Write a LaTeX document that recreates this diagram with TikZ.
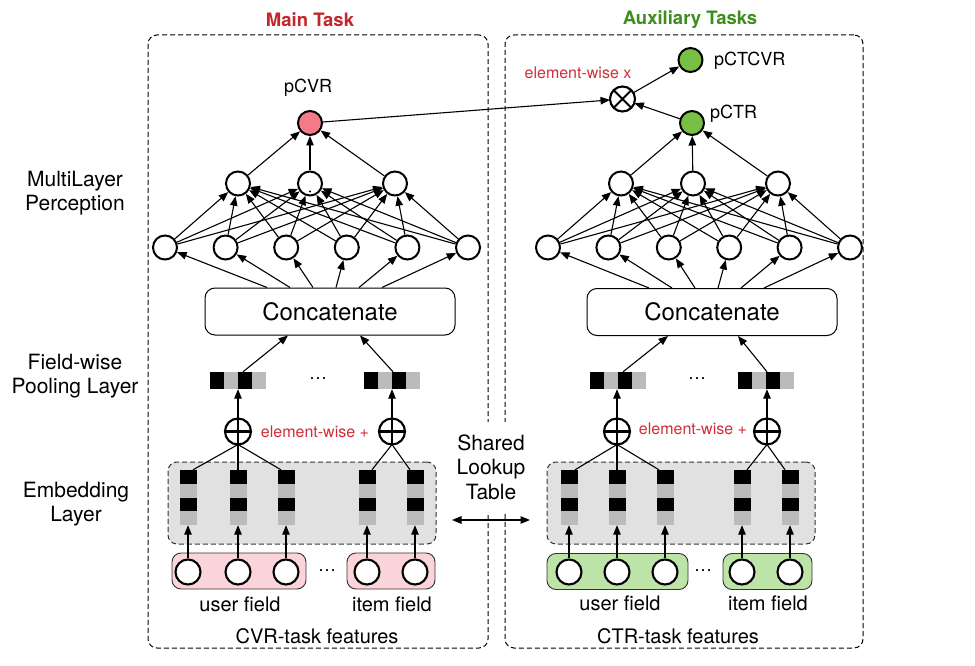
\documentclass[tikz,border=0pt]{standalone}
\usepackage{fontspec}
\setmainfont{TeX Gyre Heros}
\usetikzlibrary{arrows.meta}
\definecolor{mainred}{HTML}{C1272D}
\definecolor{auxgreen}{HTML}{3E8E1F}
\definecolor{opred}{HTML}{D12E3A}
\definecolor{outpink}{HTML}{F47A8A}
\definecolor{outgreen}{HTML}{77C043}
\definecolor{fieldpink}{HTML}{FAD4D8}
\definecolor{fieldgreen}{HTML}{BEE3A6}
\definecolor{embgray}{HTML}{E1E1E1}
\definecolor{cellgray}{HTML}{BBBBBB}
\begin{document}
\begin{tikzpicture}[x=1pt,y=-1pt,
  neuron/.style={circle,draw,line width=2pt,fill=white,minimum size=24pt,inner sep=0pt},
  fieldc/.style={circle,draw,line width=2.1pt,fill=white,minimum size=25pt,inner sep=0pt},
  opnode/.style={circle,draw,line width=2.1pt,fill=white,minimum size=26pt,inner sep=0pt,outer sep=0pt},
  oplines/.style={line width=2.1pt},
  arr/.style={-{Triangle[length=9.5pt,width=7.5pt]},line width=1.1pt},
  darr/.style={{Triangle[length=9.5pt,width=7.5pt]}-{Triangle[length=9.5pt,width=7.5pt]},line width=1.1pt},
  ln/.style={line width=1.1pt},
  taskbox/.style={draw,dash pattern=on 5pt off 3pt,rounded corners=9pt,line width=1pt,inner sep=0pt},
  embbox/.style={draw=black!80,fill=embgray,dash pattern=on 5pt off 3pt,rounded corners=9pt,line width=1pt,inner sep=0pt},
  fieldboxP/.style={draw=black!80,fill=fieldpink,rounded corners=9pt,line width=0.9pt,inner sep=0pt},
  fieldboxG/.style={draw=black!80,fill=fieldgreen,rounded corners=9pt,line width=0.9pt,inner sep=0pt},
  concat/.style={draw,rounded corners=10pt,line width=1pt,minimum width=250pt,minimum height=47pt,inner sep=0pt,font=\fontsize{24}{28}\selectfont},
  vecbox/.style={minimum width=56pt,minimum height=17pt,inner sep=0pt},
  colbox/.style={minimum width=17pt,minimum height=55pt,inner sep=0pt},
  lbl/.style={align=center,inner sep=1pt,font=\fontsize{21}{24}\selectfont},
  lblM/.style={inner sep=1pt,font=\fontsize{20}{24}\selectfont},
  lblS/.style={inner sep=1pt,font=\fontsize{18}{22}\selectfont},
  oplbl/.style={inner sep=1pt,text=opred,font=\fontsize{16}{19}\selectfont},
  title/.style={inner sep=1pt,font=\bfseries\fontsize{18.5}{22}\selectfont}
]
\useasboundingbox (0,0) rectangle (975,666);
\fill[white] (0,0) rectangle (975,666);

% task boxes
\node[taskbox,minimum width=340pt,minimum height=613pt] (mainbox) at (318,341.5) {};
\node[taskbox,minimum width=358pt,minimum height=613pt] (auxbox) at (684,341.5) {};
\node[title,text=mainred] (tmain) at (310,20) {Main Task};
\node[title,text=auxgreen] (taux) at (690,20) {Auxiliary Tasks};

% shared lookup
\node[lbl,fill=white,minimum height=90pt,minimum width=62pt,font=\fontsize{21}{24.5}\selectfont] (shared) at (491,467) {Shared\\Lookup\\Table};
\coordinate (sl) at (452,520);
\coordinate (sr) at (530,520);
\draw[darr] (sl) -- (sr);

% left labels
\node[lbl] (mlp) at (75,193) {MultiLayer\\Perception};
\node[lbl] (pool) at (75,376) {Field-wise\\Pooling Layer};
\node[lbl] (embl) at (76,504) {Embedding\\Layer};

% embedding regions
\node[embbox,minimum width=268pt,minimum height=82pt] (embL) at (302,503) {};
\node[embbox,minimum width=268pt,minimum height=82pt] (embR) at (681,503) {};

% embedding columns
\foreach \n/\cx in {eL1/188,eL2/238,eL3/286,eL4/367,eL5/415,eR1/569,eR2/617,eR3/665,eR4/742,eR5/790}{
  \node[colbox] (\n) at (\cx,497.5) {};
  \fill[black] ({\cx-8.5},470) rectangle ({\cx+8.5},483.75);
  \fill[cellgray] ({\cx-8.5},483.75) rectangle ({\cx+8.5},497.5);
  \fill[black] ({\cx-8.5},497.5) rectangle ({\cx+8.5},511.25);
  \fill[cellgray] ({\cx-8.5},511.25) rectangle ({\cx+8.5},525);
}

% field boxes
\node[fieldboxP,minimum width=134pt,minimum height=36pt] (ufbL) at (239,571) {};
\node[fieldboxP,minimum width=88pt,minimum height=36pt] (ifbL) at (391,571) {};
\node[fieldboxG,minimum width=141pt,minimum height=36pt] (ufbR) at (617.5,571.5) {};
\node[fieldboxG,minimum width=89pt,minimum height=36pt] (ifbR) at (767.5,571.5) {};
\foreach \n/\cx in {fL1/188,fL2/238,fL3/286,fL4/367,fL5/415,fR1/569,fR2/617,fR3/665,fR4/742,fR5/790}{
  \node[fieldc] (\n) at (\cx,572) {};
}
\foreach \i in {1,...,5}{
  \draw[arr] (fL\i) -- (eL\i.south);
  \draw[arr] (fR\i) -- (eR\i.south);
}
\node[lblS] (fdotsL) at (327,571) {\textellipsis};
\node[lblS] (fdotsR) at (703,571) {\textellipsis};
\node[lblM] (ufL) at (240,604) {user field};
\node[lblM] (ifL) at (392,604) {item field};
\node[lblM] (ufR) at (620,603) {user field};
\node[lblM] (ifR) at (768,603) {item field};
\node[lblM] (cvrf) at (317,636) {CVR-task features};
\node[lblM] (ctrf) at (678,636) {CTR-task features};

% pooled vectors
\foreach \n/\p in {pL1/238,pL2/392,pR1/618,pR2/766}{
  \node[vecbox] (\n) at (\p,380.5) {};
  \fill[black] ({\p-28},372) rectangle ({\p-14},389);
  \fill[cellgray] ({\p-14},372) rectangle (\p,389);
  \fill[black] (\p,372) rectangle ({\p+14},389);
  \fill[cellgray] ({\p+14},372) rectangle ({\p+28},389);
}
\node[lblS] (pdotsL) at (318,379) {\textellipsis};
\node[lblS] (pdotsR) at (697,379) {\textellipsis};

% plus nodes
\foreach \n/\p in {plL1/238,plL2/392,plR1/617,plR2/767}{
  \node[opnode] (\n) at (\p,431.5) {};
  \draw[oplines] (\n.north) -- (\n.south) (\n.west) -- (\n.east);
}
\node[oplbl] (ewL) at (315,432) {element-wise +};
\node[oplbl] (ewR) at (693,429) {element-wise +};

% plus to columns
\draw[ln] (plL1.south) -- ([xshift=5pt]eL1.north);
\draw[ln] (plL1.south) -- (eL2.north);
\draw[ln] (plL1.south) -- ([xshift=-5pt]eL3.north);
\draw[ln] (plL2.south) -- ([xshift=5pt]eL4.north);
\draw[ln] (plL2.south) -- ([xshift=-5pt]eL5.north);
\draw[ln] (plR1.south) -- ([xshift=6pt]eR1.north);
\draw[ln] (plR1.south) -- (eR2.north);
\draw[ln] (plR1.south) -- ([xshift=-6pt]eR3.north);
\draw[ln] (plR2.south) -- ([xshift=5pt]eR4.north);
\draw[ln] (plR2.south) -- ([xshift=-5pt]eR5.north);

% plus to pooled
\draw[arr] (plL1) -- (pL1.south);
\draw[arr] (plL2) -- (pL2.south);
\draw[arr] (plR1) -- ([xshift=-1pt]pR1.south);
\draw[arr] (plR2) -- ([xshift=1pt]pR2.south);

% concatenate
\node[concat] (catL) at (330,311.5) {Concatenate};
\node[concat] (catR) at (712,312) {Concatenate};
\draw[arr] ([xshift=5pt]pL1.north) -- ([xshift=-42pt]catL.south);
\draw[arr] ([xshift=1pt]pL2.north) -- ([xshift=30pt]catL.south);
\draw[arr] ([xshift=5pt]pR1.north) -- ([xshift=-44pt]catR.south);
\draw[arr] ([xshift=1pt]pR2.north) -- ([xshift=26pt]catR.south);

% MLP layers
\foreach \i/\x in {1/165,2/225.6,3/286.2,4/346.8,5/407.4,6/468}{
  \node[neuron] (aL\i) at (\x,247.5) {};
}
\foreach \i/\x in {1/548,2/608.4,3/668.8,4/729.2,5/789.6,6/850}{
  \node[neuron] (aR\i) at (\x,247.5) {};
}
\foreach \j/\x in {1/238,2/310,3/395}{
  \node[neuron] (bL\j) at (\x,183.5) {};
}
\foreach \j/\x in {1/621,2/693,3/778}{
  \node[neuron] (bR\j) at (\x,183.5) {};
}
\fill (310,191.5) circle (1.1pt);
\foreach \i/\o in {1/-63,2/-40,3/-17,4/6,5/29,6/52}{
  \draw[arr] ([xshift=\o pt]catL.north) -- (aL\i);
  \draw[arr] ([xshift=\o pt]catR.north) -- (aR\i);
}
\foreach \i in {1,...,6}{
  \foreach \j in {1,2,3}{
    \draw[arr] (aL\i) -- (bL\j);
    \draw[arr] (aR\i) -- (bR\j);
  }
}

% outputs
\node[neuron,fill=outpink] (pcvr) at (310,123) {};
\node[neuron,fill=outgreen] (pctr) at (692,123) {};
\node[neuron,fill=outgreen] (pctcvr) at (690.5,60) {};
\foreach \j in {1,2,3}{
  \draw[arr] (bL\j) -- (pcvr);
  \draw[arr] (bR\j) -- (pctr);
}
\node[lblS] (pcvrlbl) at (308,88) {pCVR};
\node[lblS,anchor=west] (pctrlbl) at (709,114) {pCTR};
\node[lblS,anchor=west] (pctcvrlbl) at (713,61) {pCTCVR};

% multiplication
\node[opnode,minimum size=25pt] (times) at (622.5,99) {};
\draw[oplines] (times.north east) -- (times.south west) (times.north west) -- (times.south east);
\node[oplbl] (ewx) at (578,73) {element-wise x};
\draw[arr] (pcvr) -- (times);
\draw[arr] (pctr) -- (times);
\draw[arr] (times) -- (pctcvr);
\end{tikzpicture}
\end{document}
